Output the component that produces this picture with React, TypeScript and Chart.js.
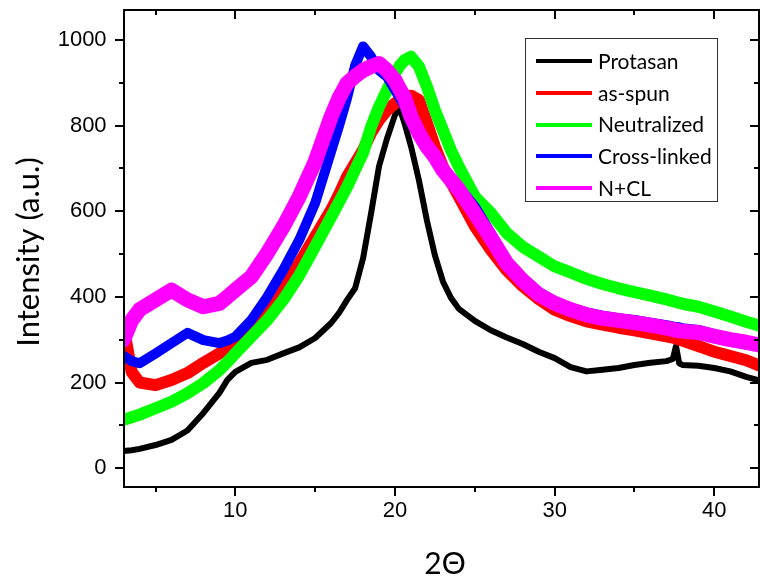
import React, { useEffect, useRef } from "react";
import { Chart, registerables } from "chart.js";

Chart.register(...registerables);

// 2Θ sample positions (degrees)
const twoTheta = [
  3, 3.5, 4, 5, 6, 7, 8, 9, 9.5, 10, 11, 12, 13, 14, 15, 16, 16.5, 17, 17.5, 18,
  18.5, 19, 19.5, 20, 20.3, 20.6, 21, 21.5, 22, 22.5, 23, 23.5, 24, 25, 26, 27,
  28, 29, 30, 31, 32, 33, 34, 35, 36, 37, 37.4, 37.6, 37.8, 38, 39, 40, 41, 42, 42.8,
];

const protasan = [
  40, 42, 45, 54, 66, 88, 129, 176, 206, 225, 246, 253, 268, 282, 304, 339, 363, 393, 420, 490,
  595, 705, 770, 825, 840, 805, 752, 672, 578, 497, 436, 398, 372, 344, 322, 305,
  290, 272, 257, 236, 226, 230, 234, 241, 246, 250, 255, 285, 245, 241, 239, 234, 226, 213, 205,
];

const asSpun = [
  330, 225, 200, 194, 206, 222, 246, 268, 283, 299, 338, 377, 424, 479, 541, 603, 640, 681, 712, 743,
  783, 813, 836, 852, 860, 867, 870, 860, 806, 751, 704, 668, 634, 565, 510, 462,
  425, 395, 370, 355, 343, 335, 328, 322, 315, 308, 305, 303, 300, 298, 285, 272, 262, 252, 240,
];

const neutralized = [
  113, 119, 125, 140, 155, 175, 199, 229, 248, 268, 307, 346, 393, 450, 518, 587, 622, 657, 697, 736,
  797, 844, 883, 922, 940, 953, 961, 938, 891, 836, 790, 743, 704, 634, 596, 549,
  517, 494, 471, 457, 442, 430, 420, 411, 403, 394, 390, 388, 386, 384, 377, 366, 354, 342, 333,
];

const crossLinked = [
  262, 250, 245, 268, 292, 316, 299, 292, 298, 307, 346, 400, 463, 533, 619, 740, 800, 865, 940, 985,
  961, 929, 914, 883, 865, 844, 806, 774, 743, 722, 704, 680, 657, 611, 549, 485,
  445, 412, 390, 375, 364, 356, 350, 346, 340, 334, 331, 330, 329, 327, 323, 313, 305, 298, 292,
];

const nPlusCL = [
  300, 345, 370, 393, 416, 393, 377, 385, 400, 416, 447, 502, 564, 634, 716, 821, 865, 899, 915, 929,
  938, 945, 929, 906, 885, 865, 821, 782, 751, 727, 696, 673, 650, 595, 538, 478,
  438, 405, 385, 370, 358, 350, 345, 340, 334, 327, 324, 322, 321, 320, 317, 308, 300, 294, 288,
];

const seriesLabels = ["Protasan", "as-spun", "Neutralized", "Cross-linked", "N+CL"];
const seriesValues = [protasan, asSpun, neutralized, crossLinked, nPlusCL];

const xMajorTicks = [10, 20, 30, 40];
const xMinorTicks = [5, 15, 25, 35];
const yMajorTicks = [0, 200, 400, 600, 800, 1000];
const yMinorTicks = [100, 300, 500, 700, 900];

const xAxisTitle = "2Θ";
const yAxisTitle = "Intensity (a.u.)";

const seriesStyle = [
  { color: "#000000", width: 6 },
  { color: "#ff0000", width: 12 },
  { color: "#00ff00", width: 12 },
  { color: "#0000ff", width: 10 },
  { color: "#ff00ff", width: 15 },
];

const TITLE_FONT = "Lato, 'Open Sans', sans-serif";

const framePlugin = {
  id: "frameTicks",
  afterDraw(chart: any) {
    const ctx = chart.ctx;
    const xs = chart.scales.x;
    const ys = chart.scales.y;
    const left = Math.round(chart.chartArea.left);
    const right = Math.round(chart.chartArea.right);
    const top = Math.round(chart.chartArea.top);
    const bottom = Math.round(chart.chartArea.bottom);
    const lw = 2;
    ctx.save();
    ctx.setLineDash([]);
    ctx.globalAlpha = 1;
    ctx.fillStyle = "#000000";
    // frame
    ctx.fillRect(left - 1, top - 1, right - left + 2, lw);
    ctx.fillRect(left - 1, bottom - 1, right - left + 2, lw);
    ctx.fillRect(left - 1, top - 1, lw, bottom - top + 2);
    ctx.fillRect(right - 1, top - 1, lw, bottom - top + 2);
    const major = 9;
    const minor = 5;
    const hTick = (v: number, len: number) => {
      const p = Math.round(xs.getPixelForValue(v));
      ctx.fillRect(p - 1, bottom, lw, len);
      ctx.fillRect(p - 1, top, lw, len);
    };
    const vTick = (v: number, len: number) => {
      const p = Math.round(ys.getPixelForValue(v));
      ctx.fillRect(left - len, p - 1, len, lw);
      ctx.fillRect(right - len, p - 1, len, lw);
    };
    xMajorTicks.forEach((v) => hTick(v, major));
    xMinorTicks.forEach((v) => hTick(v, minor));
    yMajorTicks.forEach((v) => vTick(v, major));
    yMinorTicks.forEach((v) => vTick(v, minor));
    ctx.restore();
  },
};

const legendPlugin = {
  id: "boxLegend",
  afterDraw(chart: any) {
    const ctx = chart.ctx;
    ctx.save();
    ctx.setLineDash([]);
    ctx.fillStyle = "#ffffff";
    ctx.fillRect(525, 38, 193, 164);
    ctx.fillStyle = "#333333";
    ctx.fillRect(525, 38, 193, 1);
    ctx.fillRect(525, 201, 193, 1);
    ctx.fillRect(525, 38, 1, 164);
    ctx.fillRect(717, 38, 1, 164);
    chart.data.datasets.forEach((ds: any, i: number) => {
      const y = 61 + i * 31.8;
      ctx.fillStyle = ds.borderColor;
      ctx.fillRect(536, Math.round(y) - 2, 56, 4);
      ctx.fillStyle = "#000";
      ctx.font = `21px ${TITLE_FONT}`;
      ctx.textBaseline = "middle";
      ctx.textAlign = "left";
      ctx.fillText(ds.label, 598, y + 1);
    });
    ctx.restore();
  },
};

const titlePlugin = {
  id: "axisTitles",
  afterDraw(chart: any) {
    const ctx = chart.ctx;
    ctx.save();
    ctx.fillStyle = "#000";
    ctx.font = `30px ${TITLE_FONT}`;
    ctx.textAlign = "center";
    ctx.textBaseline = "middle";
    ctx.fillText(xAxisTitle, 445, 564);
    ctx.translate(29, 252);
    ctx.rotate(-Math.PI / 2);
    ctx.font = `31px ${TITLE_FONT}`;
    ctx.fillText(yAxisTitle, 0, 0);
    ctx.restore();
  },
};

export default function App() {
  const canvasRef = useRef<HTMLCanvasElement | null>(null);

  useEffect(() => {
    if (!canvasRef.current) return;
    const datasets = seriesLabels.map((label, i) => ({
      label,
      data: twoTheta.map((x, j) => ({ x, y: seriesValues[i][j] })),
      borderColor: seriesStyle[i].color,
      backgroundColor: seriesStyle[i].color,
      borderWidth: seriesStyle[i].width,
      pointRadius: 0,
      tension: 0,
      fill: false,
      borderJoinStyle: "round" as const,
      borderCapStyle: "round" as const,
      order: seriesLabels.length - i,
    }));

    const chart = new Chart(canvasRef.current, {
      type: "line",
      data: { datasets },
      options: {
        animation: false,
        responsive: false,
        maintainAspectRatio: false,
        devicePixelRatio: 1,
        layout: { padding: { left: 0, right: 1, top: 10, bottom: 0 } },
        plugins: {
          legend: { display: false },
          tooltip: { enabled: false },
        },
        scales: {
          x: {
            type: "linear",
            min: 3,
            max: 42.8,
            afterBuildTicks: (s: any) => {
              s.ticks = xMajorTicks.map((v) => ({ value: v }));
            },
            afterFit: (s: any) => {
              s.height = 91;
              s.paddingLeft = 0;
              s.paddingRight = 0;
            },
            grid: { display: false, drawTicks: true, tickLength: 9 },
            border: { display: false },
            ticks: {
              color: "#000",
              padding: 2,
              maxRotation: 0,
              autoSkip: false,
              callback: (v: any) => String(v),
              font: { family: "'Liberation Sans', Arial, sans-serif", size: 22 },
            },
          },
          y: {
            type: "linear",
            min: -44,
            max: 1070,
            afterBuildTicks: (s: any) => {
              s.ticks = yMajorTicks.map((v) => ({ value: v }));
            },
            afterFit: (s: any) => {
              s.width = 123.6;
              s.paddingTop = 0;
              s.paddingBottom = 0;
            },
            grid: { display: false, drawTicks: true, tickLength: 9 },
            border: { display: false },
            ticks: {
              color: "#000",
              padding: 8,
              autoSkip: false,
              callback: (v: any) => String(v),
              font: { family: "'Liberation Sans', Arial, sans-serif", size: 22 },
            },
          },
        },
      },
      plugins: [framePlugin, legendPlugin, titlePlugin],
    });
    return () => chart.destroy();
  }, []);

  return (
    <div style={{ position: "fixed", left: 0, top: 0, width: 760, height: 578, background: "#fff" }}>
      <canvas ref={canvasRef} width={760} height={578} style={{ width: 760, height: 578, display: "block" }} />
    </div>
  );
}
